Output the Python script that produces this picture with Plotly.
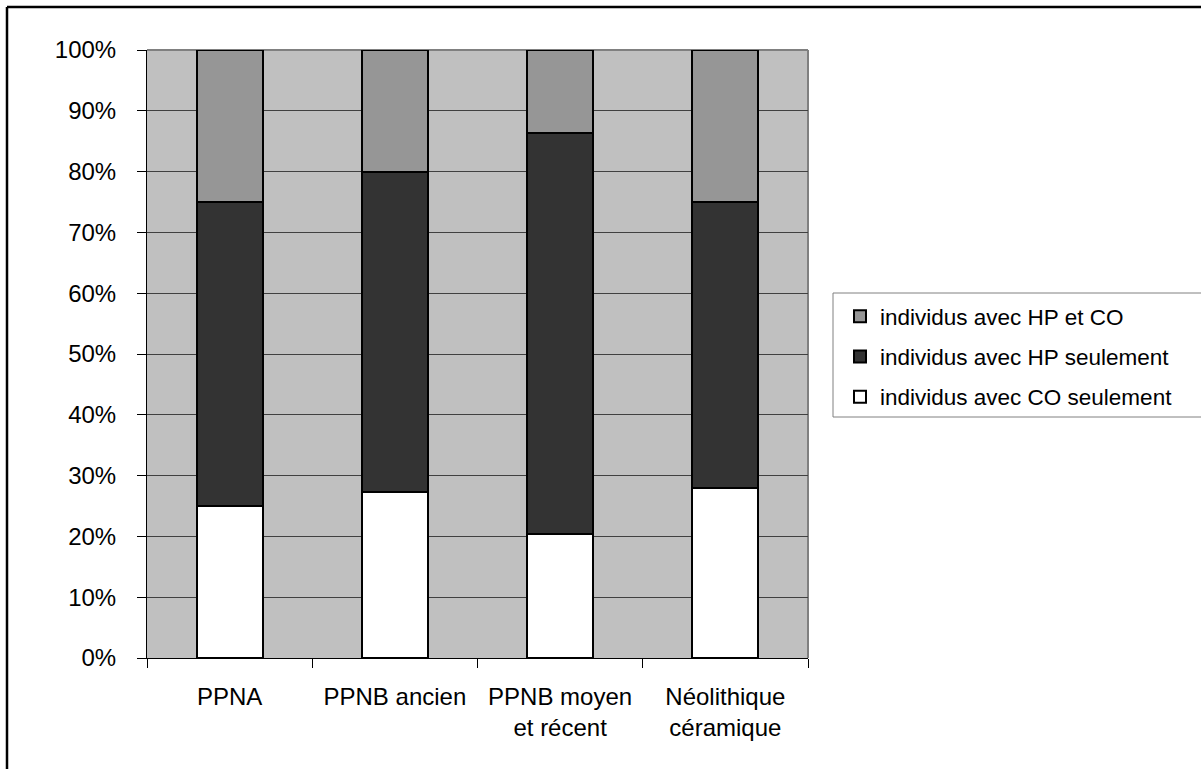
import plotly.graph_objects as go

categories = ["PPNA", "PPNB ancien", "PPNB moyen<br>et récent", "Néolithique<br>céramique"]
co_only = [25.0, 27.3, 20.4, 28.0]
hp_only = [50.0, 52.7, 65.9, 47.0]
hp_co = [25.0, 20.0, 13.7, 25.0]

series = [
    ("individus avec CO seulement", co_only, "#FFFFFF", "a", 3),
    ("individus avec HP seulement", hp_only, "#333333", "b", 2),
    ("individus avec HP et CO", hp_co, "#969696", "c", 1),
]

FONT = "Liberation Sans, Arial, sans-serif"
W, H = 1201, 769
PX0, PX1, PY0, PY1 = 147, 808, 50, 658
L, T, R, B = PX0, PY0, W - PX1, H - PY1
pw, ph = PX1 - PX0, PY1 - PY0

def px(x):
    return (x - PX0) / pw

def py(y):
    return (PY1 - y) / ph

fig = go.Figure()
for name, vals, color, grp, rank in series:
    fig.add_trace(go.Bar(
        x=categories, y=vals, name=name, legendgroup=grp, legendrank=rank,
        marker=dict(color=color, line=dict(color="#000000", width=2)),
        width=0.4,
    ))

shapes = [
    dict(type="line", xref="paper", yref="paper", x0=0, x1=1, y0=1, y1=1,
         line=dict(color="#808080", width=2), layer="below"),
    dict(type="line", xref="paper", yref="paper", x0=1, x1=1, y0=0, y1=1,
         line=dict(color="#808080", width=2), layer="below"),
    dict(type="line", xref="paper", yref="paper", x0=px(7), x1=px(1215), y0=py(7), y1=py(7),
         line=dict(color="#000000", width=2.5)),
    dict(type="line", xref="paper", yref="paper", x0=px(7), x1=px(7), y0=py(7), y1=py(790),
         line=dict(color="#000000", width=2.5)),
    dict(type="rect", xref="paper", yref="paper", x0=px(833), x1=px(1230), y0=py(293), y1=py(417),
         line=dict(color="#808080", width=1), fillcolor="rgba(0,0,0,0)"),
]

fig.update_layout(
    width=W, height=H, autosize=False,
    margin=dict(l=L, r=R, t=T, b=B),
    barmode="stack",
    paper_bgcolor="#FFFFFF",
    plot_bgcolor="#C0C0C0",
    font=dict(family=FONT, size=24, color="#000000"),
    showlegend=True,
    legend=dict(
        x=px(840), y=py(295), xanchor="left", yanchor="top",
        traceorder="grouped", tracegroupgap=8,
        bgcolor="rgba(0,0,0,0)", borderwidth=0,
        font=dict(family=FONT, size=22.5, color="#000000"),
    ),
    shapes=shapes,
    xaxis=dict(
        showgrid=False, showline=True, linecolor="#000000", linewidth=1,
        ticks="outside", tickson="boundaries", ticklen=9, tickcolor="#000000",
        tickfont=dict(family=FONT, size=24, color="#000000"),
        ticklabelstandoff=17,
    ),
    yaxis=dict(
        range=[0, 100], dtick=10, ticksuffix="%",
        showgrid=True, gridcolor="#404040", gridwidth=1,
        showline=True, linecolor="#000000", linewidth=1,
        ticks="outside", ticklen=9, tickcolor="#000000",
        tickfont=dict(family=FONT, size=24, color="#000000"),
        ticklabelstandoff=16, zeroline=False,
    ),
)

fig.write_html("out.html", config={"displayModeBar": False},
               post_script="document.body.style.margin='0';")
